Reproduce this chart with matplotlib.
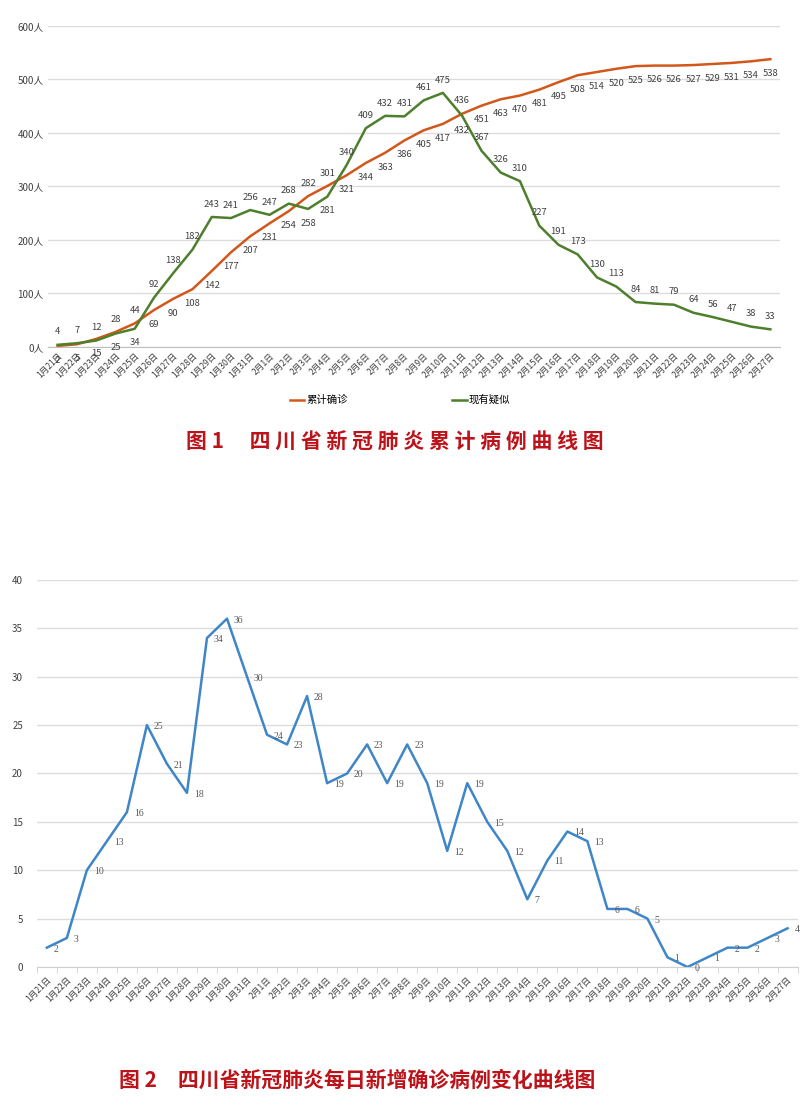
import matplotlib
matplotlib.use('Agg')
import matplotlib.pyplot as plt

plt.rcParams['font.family'] = ['Noto Sans CJK SC', 'DejaVu Sans']

# dates 1月21日 .. 2月27日
dates = ['1月%d日' % d for d in range(21, 32)] + ['2月%d日' % d for d in range(1, 28)]

# cumulative confirmed (累计确诊)
confirmed = [2, 5, 15, 28, 44, 69, 90, 108, 142, 177, 207, 231, 254, 282, 301,
             321, 344, 363, 386, 405, 417, 436, 451, 463, 470, 481, 495, 508,
             514, 520, 525, 526, 526, 527, 529, 531, 534, 538]
# current suspected (现有疑似)
suspected = [4, 7, 12, 25, 34, 92, 138, 182, 243, 241, 256, 247, 268, 258, 281,
             340, 409, 432, 431, 461, 475, 432, 367, 326, 310, 227, 191, 173,
             130, 113, 84, 81, 79, 64, 56, 47, 38, 33]
# daily new confirmed
daily_new = [2, 3, 10, 13, 16, 25, 21, 18, 34, 36, 30, 24, 23, 28, 19, 20, 23,
             19, 23, 19, 12, 19, 15, 12, 7, 11, 14, 13, 6, 6, 5, 1, 0, 1, 2, 2,
             3, 4]

y1_ticks = [0, 100, 200, 300, 400, 500, 600]
y2_ticks = [0, 5, 10, 15, 20, 25, 30, 35, 40]

ORANGE = '#D2571A'
GREEN = '#4E7F2C'
BLUE = '#3F86C8'
RED = '#BC1219'
GRID = '#dcdcdc'
TXT = '#404040'

# points where the labels swap sides (orange on top, green below)
swap = {3, 4, 13, 14, 21}

fig = plt.figure(figsize=(8, 11.11), dpi=100)

# ---------------- figure 1 ----------------
ax1 = fig.add_axes([0.06, 0.6877, 0.915, 0.2889])
x = list(range(len(dates)))
ax1.plot(x, confirmed, color=ORANGE, lw=1.8, label='累计确诊')
ax1.plot(x, suspected, color=GREEN, lw=1.8, label='现有疑似')
ax1.set_xlim(-0.5, len(dates) - 0.5)
ax1.set_ylim(0, 600)
ax1.set_yticks(y1_ticks)
ax1.set_yticklabels(['%d人' % v for v in y1_ticks], fontsize=7, color=TXT)
ax1.set_xticks(x)
ax1.set_xticklabels(dates, rotation=45, ha='right', rotation_mode='anchor',
                    fontsize=6.2, color=TXT)
ax1.tick_params(length=0, pad=3)
ax1.grid(axis='y', color=GRID, lw=1)
for s in ['top', 'right', 'left']:
    ax1.spines[s].set_visible(False)
ax1.spines['bottom'].set_color('#bfbfbf')
ax1.set_axisbelow(True)

for i in x:
    up_o = i in swap
    ax1.annotate(str(confirmed[i]), (i, confirmed[i]),
                 xytext=(0, 6 if up_o else -7), textcoords='offset points',
                 ha='center', va='bottom' if up_o else 'top',
                 fontsize=6.8, color=TXT)
    ax1.annotate(str(suspected[i]), (i, suspected[i]),
                 xytext=(0, -7 if up_o else 6), textcoords='offset points',
                 ha='center', va='top' if up_o else 'bottom',
                 fontsize=6.8, color=TXT)

fig.legend(loc='center', bbox_to_anchor=(0.5, 1 - 400 / 1111), ncol=2,
           frameon=False, fontsize=7.5, handlelength=1.4, handletextpad=0.2,
           columnspacing=10)

fig.text(0.494, 1 - 441 / 1111, '图 1　 四 川 省 新 冠 肺 炎 累 计 病 例 曲 线 图',
         ha='center', va='center', fontsize=15, fontweight='bold', color=RED)

# ---------------- figure 2 ----------------
ax2 = fig.add_axes([0.046, 0.1296, 0.951, 0.3484])
ax2.plot(x, daily_new, color=BLUE, lw=1.8)
ax2.set_xlim(-0.5, len(dates) - 0.5)
ax2.set_ylim(0, 40)
ax2.set_yticks(y2_ticks)
ax2.set_yticklabels([str(v) for v in y2_ticks], fontsize=7, color=TXT)
ax2.set_xticks(x)
ax2.set_xticklabels(dates, rotation=45, ha='right', rotation_mode='anchor',
                    fontsize=6.2, color=TXT)
ax2.set_xticks([i - 0.5 for i in range(len(dates) + 1)], minor=True)
ax2.tick_params(axis='x', which='major', length=0, pad=6)
ax2.tick_params(axis='x', which='minor', length=4, color='#d0d0d0')
ax2.tick_params(axis='y', length=0, pad=10)
ax2.grid(axis='y', color=GRID, lw=1)
for s in ['top', 'right', 'left']:
    ax2.spines[s].set_visible(False)
ax2.spines['bottom'].set_color('#d0d0d0')
ax2.set_axisbelow(True)

for i in x:
    ax2.annotate(str(daily_new[i]), (i, daily_new[i]),
                 xytext=(5, -1), textcoords='offset points',
                 ha='left', va='center', fontsize=7, color='#595959',
                 family=['Liberation Serif', 'DejaVu Serif'])

fig.text(0.446, 1 - 1080 / 1111, '图 2　四川省新冠肺炎每日新增确诊病例变化曲线图',
         ha='center', va='center', fontsize=15, fontweight='bold', color=RED)

fig.savefig('out.png', dpi=100, facecolor='white')
